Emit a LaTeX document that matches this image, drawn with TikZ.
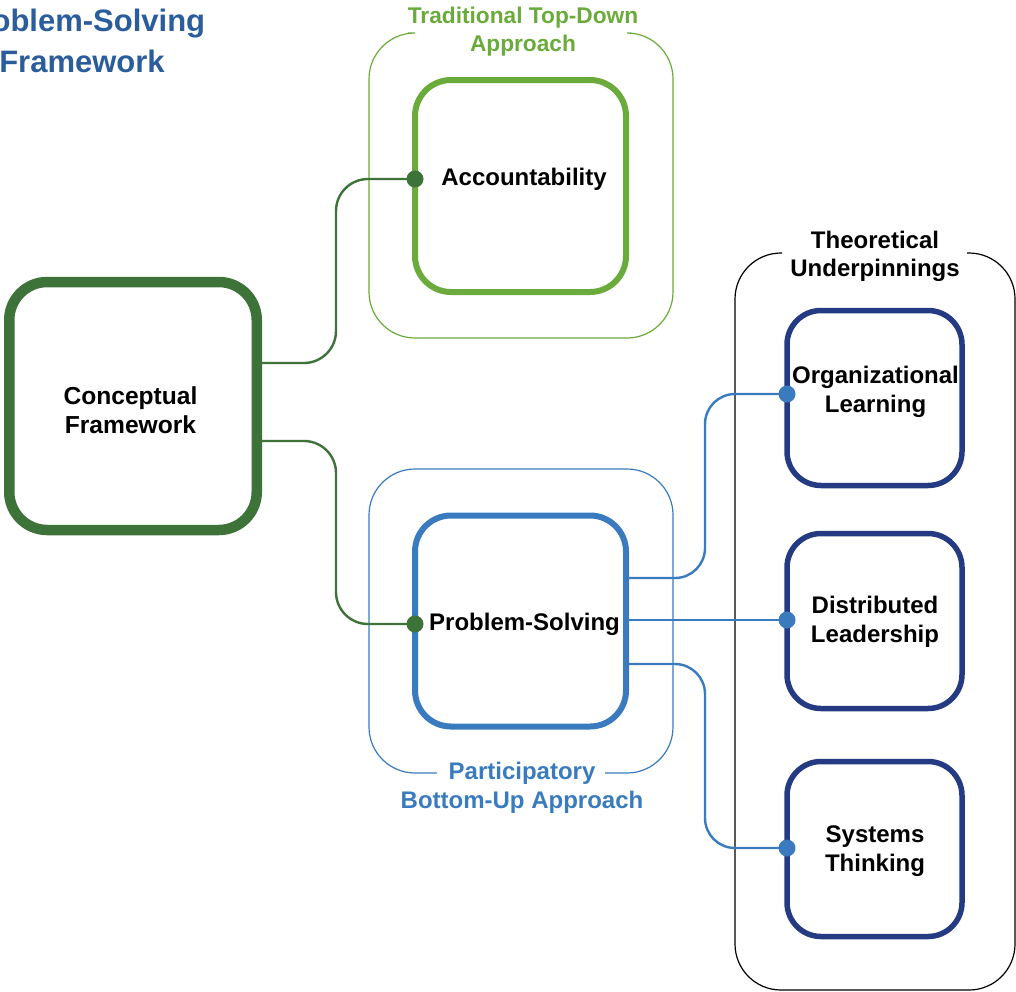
\documentclass[tikz,border=0pt]{standalone}
\usepackage{fontspec}
\setmainfont{Liberation Sans}
\definecolor{titleblue}{HTML}{2B5D9C}
\definecolor{darkgreen}{HTML}{3D7238}
\definecolor{lightgreen}{HTML}{6AAB3C}
\definecolor{midblue}{HTML}{3A7BBF}
\definecolor{navy}{HTML}{243A82}
\begin{document}
\begin{tikzpicture}[x=1pt,y=-1pt,
  box/.style={draw, fill=white, outer sep=0pt, inner sep=0pt, rounded corners=36pt},
  lbl/.style={align=center, inner sep=0pt, font=\fontsize{24}{29}\selectfont\bfseries},
  grouplbl/.style={align=center, inner sep=0pt, font=\fontsize{24}{28.5}\selectfont\bfseries},
  frame/.style={line width=1.2pt, rounded corners=46pt},
  gconn/.style={draw=darkgreen, line width=2.4pt, rounded corners=32pt},
  bconn/.style={draw=midblue, line width=2.4pt, rounded corners=30pt},
  dot/.style={circle, inner sep=0pt, minimum size=17pt}
]
\useasboundingbox (0,0) rectangle (1016,991);

% title (partly outside the page on the left)
\node[align=center, inner sep=0pt, text=titleblue,
      font=\fontsize{31}{41}\selectfont\bfseries] (title) at (82,41)
      {Problem-Solving\\Framework};

% group frames, each open where its heading sits
\draw[frame, lightgreen] (631,33) -- (673,33) -- (673,338) -- (369,338) -- (369,33) -- (408,33);
\node[grouplbl, text=lightgreen, font=\fontsize{22.7}{28}\selectfont\bfseries]
      (topdown) at (523,32) {Traditional Top-Down\\Approach};

\draw[frame, midblue] (437,773) -- (369,773) -- (369,469) -- (673,469) -- (673,773) -- (605,773);
\node[grouplbl, text=midblue] (bottomup) at (522,788) {Participatory\\Bottom-Up Approach};

\draw[frame, black] (967,253) -- (1015,253) -- (1015,990) -- (735,990) -- (735,253) -- (782,253);
\node[grouplbl] (theory) at (875,256.5) {Theoretical\\Underpinnings};

% boxes
\node[box, draw=darkgreen, line width=10.5pt, rounded corners=38pt,
      minimum width=247.5pt, minimum height=248pt] (cf) at (133,406) {};
\node[box, draw=lightgreen, line width=6pt,
      minimum width=211pt, minimum height=212pt] (acc) at (520.5,186) {};
\node[box, draw=midblue, line width=6pt,
      minimum width=211pt, minimum height=211pt] (ps) at (520.5,621) {};
\node[box, draw=navy, line width=5.5pt, rounded corners=34pt,
      minimum width=175pt, minimum height=175pt] (org) at (874.5,398) {};
\node[box, draw=navy, line width=5.5pt, rounded corners=34pt,
      minimum width=175pt, minimum height=175pt] (dist) at (874.5,621) {};
\node[box, draw=navy, line width=5.5pt, rounded corners=34pt,
      minimum width=175pt, minimum height=175pt] (sys) at (874.5,849) {};

% box texts
\node[lbl, font=\fontsize{24.6}{29.5}\selectfont\bfseries] (cftxt) at (130.5,410) {Conceptual\\Framework};
\node[lbl] (acctxt) at (524,179) {Accountability};
\node[lbl] (pstxt) at (524.5,624) {Problem-Solving};
\node[lbl] (orgtxt) at (875.5,392) {Organizational\\Learning};
\node[lbl] (disttxt) at (875,622) {Distributed\\Leadership};
\node[lbl] (systxt) at (875,851) {Systems\\Thinking};

% connector end points on the box edges
\coordinate (accin) at (acc.west |- acctxt);
\coordinate (psin) at (ps.west |- pstxt);
\coordinate (orgin) at (org.west |- 0,394);
\coordinate (distin) at (dist.west |- 0,620);
\coordinate (sysin) at (sys.west |- 0,848);

% connectors
\path[gconn] (cf.east |- 0,363) -| (336,270) |- (accin);
\path[gconn] (cf.east |- 0,441) -| (336,530) |- (psin);
\path[bconn] (ps.east |- 0,578) -| (705,480) |- (orgin);
\path[bconn] (ps.east |- 0,620) -- (distin);
\path[bconn] (ps.east |- 0,664) -| (705,760) |- (sysin);

% connection dots
\node[dot, fill=darkgreen] (accdot) at (accin) {};
\node[dot, fill=darkgreen] (psdot) at (psin) {};
\node[dot, fill=midblue] (orgdot) at (orgin) {};
\node[dot, fill=midblue] (distdot) at (distin) {};
\node[dot, fill=midblue] (sysdot) at (sysin) {};
\end{tikzpicture}
\end{document}
